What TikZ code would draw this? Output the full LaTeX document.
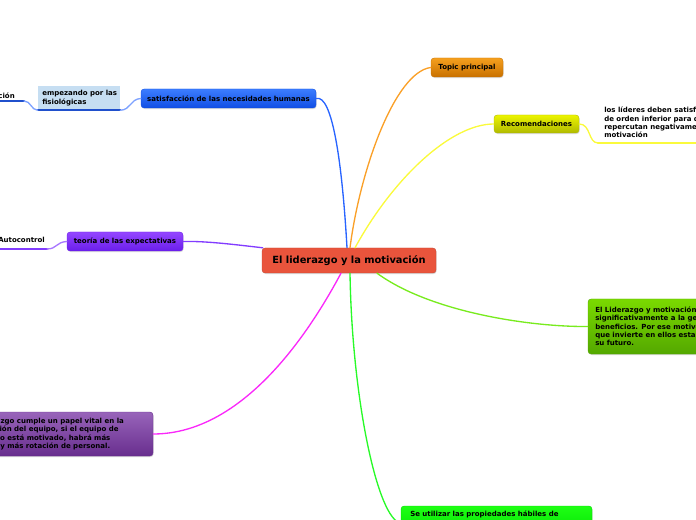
\documentclass[tikz,border=0pt]{standalone}
\usepackage{fontspec}
\setmainfont{DejaVu Sans}
\usetikzlibrary{shadows}

\newdimen\pxu \pxu=0.75pt
\newcommand\mapfont{\fontsize{5.25}{6.25}\selectfont\bfseries}
\newcommand\rootfont{\fontsize{7.4}{9}\selectfont\bfseries}

\begin{document}
\begin{tikzpicture}[
    x=0.75pt, y=-0.75pt,
    line cap=round,
    line join=round,
    every node/.style={font=\mapfont, text=black},
    mapbox/.style={rounded corners=2.4pt, inner sep=0pt, line width=0.3pt,
        drop shadow={shadow xshift=0.5pt, shadow yshift=-0.8pt, opacity=0.3}},
    branch/.style={line width=1pt},
    underline/.style={line width=1.6pt}
]

\definecolor{rootred}{RGB}{233,84,60}
\definecolor{orangetop}{RGB}{245,160,30}
\definecolor{orangebot}{RGB}{200,112,0}
\definecolor{yellowtop}{RGB}{236,244,0}
\definecolor{yellowbot}{RGB}{176,186,0}
\definecolor{bluetop}{RGB}{60,125,255}
\definecolor{bluebot}{RGB}{16,78,228}
\definecolor{violettop}{RGB}{148,70,255}
\definecolor{violetbot}{RGB}{106,30,235}
\definecolor{purpletop}{RGB}{152,100,186}
\definecolor{purplebot}{RGB}{104,46,142}
\definecolor{limetop}{RGB}{122,218,0}
\definecolor{limebot}{RGB}{84,168,0}
\definecolor{greentop}{RGB}{30,255,20}
\definecolor{greenbot}{RGB}{0,220,0}
\definecolor{lightblue}{RGB}{198,222,242}
\definecolor{lineorange}{RGB}{250,160,40}
\definecolor{lineyellow}{RGB}{250,250,60}
\definecolor{lineblue}{RGB}{40,100,255}
\definecolor{lineviolet}{RGB}{130,60,255}
\definecolor{linemagenta}{RGB}{250,40,250}
\definecolor{linelime}{RGB}{120,235,30}
\definecolor{linegreen}{RGB}{40,250,40}

\useasboundingbox (0,0) rectangle (696,520);
\clip (0,0) rectangle (696,520);

% -----------------------------
% Central topic
% -----------------------------
\node[mapbox, fill=rootred, draw=rootred!85!black, font=\rootfont,
      minimum width=174\pxu, minimum height=25\pxu]
    (root) at (349,260.5) {El liderazgo y la motivación};

% -----------------------------
% Right side
% -----------------------------
\node[mapbox, top color=orangetop, bottom color=orangebot, draw=orangebot,
      minimum width=72\pxu, minimum height=19\pxu]
    (topic) at (467,67.5) {Topic principal};

\node[mapbox, top color=yellowtop, bottom color=yellowbot, draw=yellowbot,
      minimum width=85\pxu, minimum height=18\pxu]
    (recom) at (536.5,124) {Recomendaciones};

\node[anchor=north west, align=left, inner sep=0pt] (recomtxt) at (604,107)
    {los líderes deben satisfacer las\\
     de orden inferior para que no\\
     repercutan negativamente en la\\
     motivación};
\coordinate (recomul) at (598,143);
\draw[underline, lineyellow] (recomul) -- (700,143);

\node[mapbox, top color=limetop, bottom color=limebot, draw=limebot,
      minimum width=180\pxu, minimum height=55\pxu]
    (benefit) at (678,326.5) {};
\node[anchor=west, align=left, inner sep=0pt] at (595,326.5)
    {El Liderazgo y motivación afectan\\
     significativamente a la gestión y\\
     beneficios. Por ese motivo, quien\\
     que invierte en ellos estará en\\
     su futuro.};

\node[mapbox, top color=greentop, bottom color=greenbot, draw=greenbot,
      minimum width=191\pxu, minimum height=34\pxu]
    (skills) at (496.5,523) {};
\node[anchor=north west, inner sep=0pt] at (410,511)
    {Se utilizar las propiedades hábiles de};

% -----------------------------
% Left side
% -----------------------------
\node[mapbox, top color=bluetop, bottom color=bluebot, draw=bluebot,
      minimum width=175\pxu, minimum height=19\pxu]
    (needs) at (228.5,98.5) {satisfacción de las necesidades humanas};

\node[fill=lightblue, inner sep=0pt, minimum width=82\pxu, minimum height=24\pxu]
    (physio) at (79,98) {};
\node[anchor=west, align=left, inner sep=0pt] at (42,98)
    {empezando por las\\fisiológicas};
\draw[underline, lineblue!80!black] (physio.south west) -- (physio.south east);

\node[anchor=east, inner sep=0pt] (motiv) at (15,96) {motivación};
\coordinate (motivul) at (24,101);
\draw[underline, lineblue!80!black] (-5,101) -- (motivul);

\node[mapbox, top color=violettop, bottom color=violetbot, draw=violetbot,
      minimum width=116\pxu, minimum height=19\pxu]
    (expect) at (125,241.5) {teoría de las expectativas};

\node[anchor=west, inner sep=0pt] (autoc) at (-2,240) {Autocontrol};
\coordinate (autocul) at (47,249);
\draw[underline, lineviolet] (-5,249) -- (autocul);

\node[mapbox, top color=purpletop, bottom color=purplebot, draw=purplebot,
      minimum width=213\pxu, minimum height=44\pxu]
    (vital) at (46.5,434) {};
\node[anchor=west, align=left, inner sep=0pt, font=\fontsize{5.25}{6.4}\selectfont\bfseries]
    at (-32,434)
    {El liderazgo cumple un papel vital en la\\
     motivación del equipo, si el equipo de\\
     \hspace*{-4\pxu}trabajo no está motivado, habrá más\\
     \hspace*{-16\pxu}ausentismo y más rotación de personal.};

% -----------------------------
% Branches from the root
% -----------------------------
\draw[branch, lineblue] ([xshift=-2\pxu]root.north)
    .. controls (342,160) and (332,94) .. (needs.east);
\draw[branch, lineorange] ([xshift=1\pxu]root.north)
    .. controls (360,170) and (395,72) .. (topic.west);
\draw[branch, lineyellow] ([xshift=6\pxu]root.north)
    .. controls (392,180) and (450,124) .. (recom.west);
\draw[branch, lineviolet] ([xshift=1\pxu]root.north west)
    .. controls (230,244) and (205,241) .. (expect.east);
\draw[branch, linemagenta] ([xshift=-8\pxu]root.south)
    .. controls (300,350) and (235,434) .. (vital.east);
\draw[branch, linelime] ([xshift=28\pxu]root.south)
    .. controls (430,312) and (530,327) .. (benefit.west);
\draw[branch, linegreen] ([xshift=1\pxu]root.south)
    .. controls (352,400) and (378,520) .. (skills.west);

% -----------------------------
% Sub-branches
% -----------------------------
\draw[branch, lineyellow] (recom.east)
    .. controls (591,124) and (588,143) .. (recomul);
\draw[branch, lineblue!60] (needs.west)
    .. controls (130,99) and (131,110) .. (physio.south east);
\draw[branch, lineblue!60] (physio.south west)
    .. controls (31,110) and (31,101) .. (motivul);
\draw[branch, lineviolet!70] (expect.west)
    .. controls (56,242) and (57,249) .. (autocul);

\end{tikzpicture}
\end{document}
